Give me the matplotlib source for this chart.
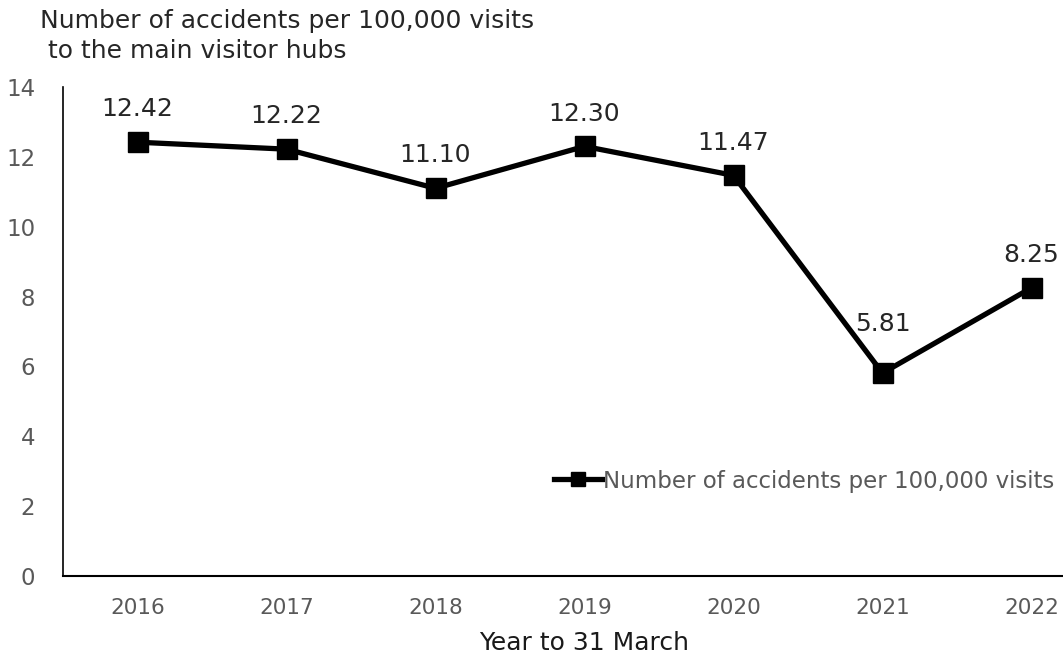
import matplotlib
matplotlib.use("Agg")
import matplotlib.pyplot as plt

# Data
years = ["2016", "2017", "2018", "2019", "2020", "2021", "2022"]
accidents_per_100k = [12.42, 12.22, 11.10, 12.30, 11.47, 5.81, 8.25]
y_ticks = [0, 2, 4, 6, 8, 10, 12, 14]

fig = plt.figure(figsize=(10.63, 6.54), dpi=100)
# axis extends past the right edge, like the cropped original
ax = fig.add_axes([63 / 1063, 1 - 576 / 654, 1043 / 1063, (576 - 87) / 654])

x = list(range(len(years)))
ax.plot(x, accidents_per_100k, color="black", linewidth=3.8, marker="s",
        markersize=14, label="Number of accidents per 100,000 visits")

# value labels above each point (the 2021 one sits a bit higher, clear of the line)
for xi, v in zip(x, accidents_per_100k):
    dy = 27 if years[xi] == "2021" else 15
    ax.annotate(f"{v:.2f}", (xi, v), xytext=(0, dy), textcoords="offset points",
                ha="center", va="bottom", fontsize=18, color="#262626")

ax.set_xlim(-0.5, 6.5)
ax.set_ylim(0, 14)
ax.set_xticks(x)
ax.set_xticklabels(years)
ax.set_yticks(y_ticks)
ax.tick_params(axis="both", length=0, labelsize=15.5, colors="#595959")
ax.tick_params(axis="x", pad=16)
ax.tick_params(axis="y", labelsize=16.5, pad=20)

for side in ["top", "right"]:
    ax.spines[side].set_visible(False)
ax.spines["left"].set_color("black")
ax.spines["left"].set_linewidth(1.2)
ax.spines["bottom"].set_color("black")
ax.spines["bottom"].set_linewidth(1.5)

ax.set_xlabel("Year to 31 March", fontsize=18, color="#1a1a1a", labelpad=9)

leg = ax.legend(loc="center left", bbox_to_anchor=(482 / 1043, (576 - 481) / 489),
                frameon=False, fontsize=16.5, handlelength=2.1, handletextpad=0.05,
                borderaxespad=0, markerscale=0.75)
for t in leg.get_texts():
    t.set_color("#595959")

fig.text(40 / 1063, 1 - 9 / 654, "Number of accidents per 100,000 visits\n to the main visitor hubs",
         ha="left", va="top", fontsize=18, color="#262626", linespacing=1.3)

fig.savefig("out.png", dpi=100)
